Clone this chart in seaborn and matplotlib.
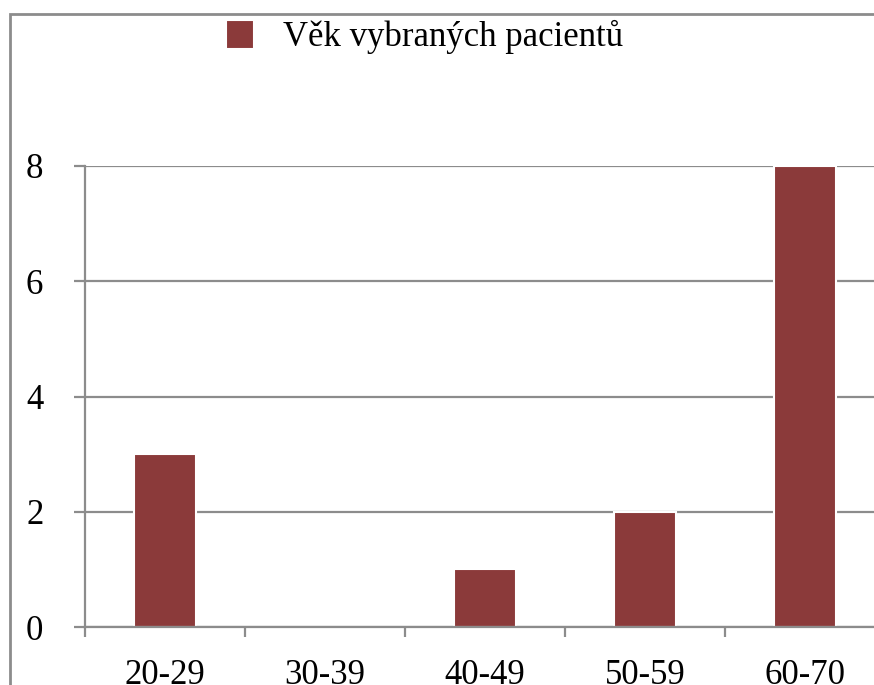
import matplotlib
matplotlib.use("Agg")
import matplotlib.pyplot as plt
from matplotlib.patches import Rectangle
import seaborn as sns

# data ----------------------------------------------------------------
age_groups = ["20-29", "30-39", "40-49", "50-59", "60-70"]
counts = [3, 0, 1, 2, 8]
series_label = "Věk vybraných pacientů"

BAR = "#8B3A3A"
GRID = "#8C8C8C"
W, H = 874, 685

sns.set_style("white")
plt.rcParams["font.family"] = ["Liberation Serif", "DejaVu Serif"]
plt.rcParams["text.color"] = "black"

fig = plt.figure(figsize=(W / 100, H / 100), dpi=100)
# axes placed in pixels: x 85..885, y 166..627
ax = fig.add_axes([85 / W, 1 - 627 / H, 800 / W, (627 - 166) / H])

sns.barplot(x=age_groups, y=counts, color=BAR, width=0.39, ax=ax,
            edgecolor="white", linewidth=1.5, saturation=1, label=series_label)

ax.set_ylim(0, 8)
ax.set_xlim(-0.5, len(age_groups) - 0.5)
ax.set_yticks([0, 2, 4, 6, 8])
ax.yaxis.grid(True, color=GRID, linewidth=1.6)
ax.set_axisbelow(True)

# category boundaries as major ticks, labels on minor ticks
ax.set_xticks([i - 0.5 for i in range(len(age_groups) + 1)])
ax.set_xticklabels([])
ax.set_xticks(range(len(age_groups)), minor=True)
ax.set_xticklabels(age_groups, minor=True)
ax.tick_params(axis="x", which="major", length=7, width=1.6, color=GRID,
               direction="out", bottom=True)
ax.tick_params(axis="x", which="minor", length=0, pad=23, labelsize=25,
               labelcolor="black")
ax.tick_params(axis="y", length=8, width=1.6, color=GRID, direction="out",
               left=True, pad=22, labelsize=25, labelcolor="black")
ax.set_xlabel("")
ax.set_ylabel("")

for side in ["top", "right"]:
    ax.spines[side].set_visible(False)
ax.spines["left"].set_color(GRID)
ax.spines["left"].set_linewidth(1.6)
ax.spines["bottom"].set_color(GRID)
ax.spines["bottom"].set_linewidth(1.6)

ax.legend(loc="center left", bbox_to_anchor=(226 / W, 1 - 37 / H),
          bbox_transform=fig.transFigure, frameon=False, fontsize=25,
          borderpad=0, borderaxespad=0, handlelength=0.8, handleheight=0.9,
          handletextpad=0.85)

# outer chart border (runs off the right and bottom edges)
fig.patches.append(Rectangle((10 / W, -0.1), 1.2, (H - 14) / H + 0.1,
                             transform=fig.transFigure, fill=False,
                             edgecolor=GRID, linewidth=2))

fig.savefig("out.png", dpi=100)
